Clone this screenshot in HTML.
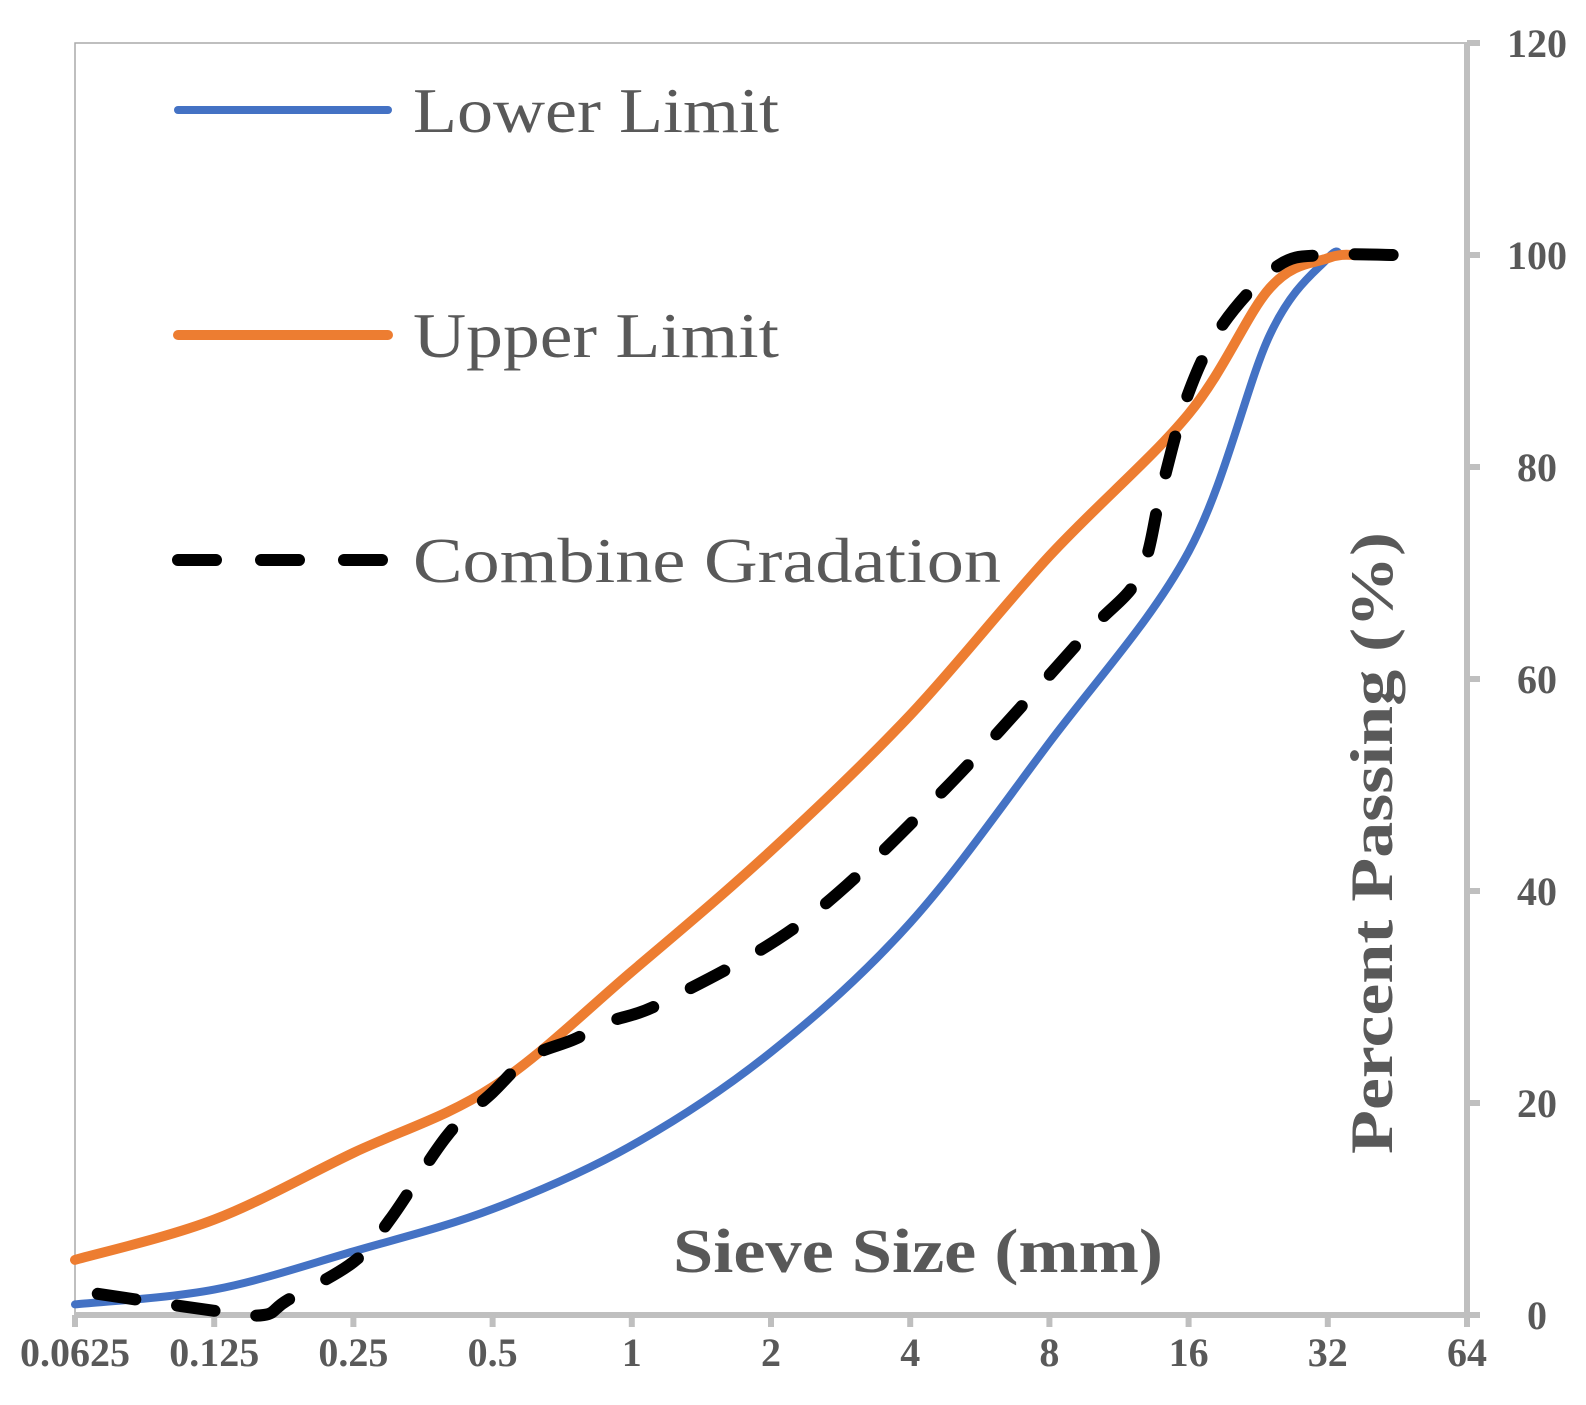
<!DOCTYPE html>
<html><head><meta charset="utf-8"><style>
html,body{margin:0;padding:0;background:#fff;}
svg text{font-family:"Liberation Serif",serif;fill:#595959;}
</style></head><body>
<svg id="chart" width="1586" height="1400" viewBox="0 0 1586 1400" xmlns="http://www.w3.org/2000/svg">
<g id="frame"></g><g id="series"></g><g id="labels"></g>
</svg>
<script>
const xTicks = [0.0625,0.125,0.25,0.5,1,2,4,8,16,32,64];
const xTickLabels = ["0.0625","0.125","0.25","0.5","1","2","4","8","16","32","64"];
const yTicks = [0,20,40,60,80,100,120];
const lowerSizes = [0.0625,0.125,0.25,0.5,1,2,4,8,16,24,32,34];
const lowerValues = [1,2.4,6,10,16,24.8,37,54,72,92.5,99.7,100];
const upperSizes = [0.0625,0.125,0.25,0.5,1,2,4,8,16,24,32,37];
const upperValues = [5.2,9,15.3,21.5,32.4,43.8,56.6,71.6,85,96.9,99.7,100];
const combSizes = [0.07,0.125,0.16,0.18,0.25,0.3,0.4,0.5,0.6,0.75,0.9,1.18,2.36,4.75,9.5,12.5,14,16,19,25,31.5,45];
const combValues = [2,0.4,0,1.4,5,9,17,21,24.3,26,27.7,29.6,37.2,49.6,64,69.7,78,87,93.5,99,100,100];

const L=75,R=1467,T=43,B=1315;
const xs = v => L + (R-L)*Math.log2(v/0.0625)/10;
const ys = v => B - (B-T)*v/120;
const NS="http://www.w3.org/2000/svg";
function mk(tag,parent,attrs){const e=document.createElementNS(NS,tag);for(const k in attrs)e.setAttribute(k,attrs[k]);parent.appendChild(e);return e;}
const frame=document.getElementById('frame'), series=document.getElementById('series'), labels=document.getElementById('labels');

let border=mk('path',frame,{d:`M${L},${B} L${L},${T} L${R},${T}`,fill:'none',stroke:'#aaaaaa','stroke-width':1.5});


let xa=mk('line',frame,{x1:L,y1:B,x2:R+10,y2:B,stroke:'#bfbfbf','stroke-width':6});


let ya=mk('line',frame,{x1:R,y1:T,x2:R,y2:B+12,stroke:'#bfbfbf','stroke-width':6});



xTicks.forEach((t,i)=>{
  const x=xs(t);
  let tk=mk('line',frame,{x1:x,y1:B,x2:x,y2:B+12,stroke:'#bfbfbf','stroke-width':6});
  
  
  let tx=mk('text',labels,{x:x,y:1366,'text-anchor':'middle','font-size':40,'font-weight':'bold'});
  tx.textContent=xTickLabels[i];
  
  
});
yTicks.forEach(t=>{
  const y=ys(t);
  let tk=mk('line',frame,{x1:R,y1:y,x2:R+13,y2:y,stroke:'#bfbfbf','stroke-width':6});
  
  
  let tx=mk('text',labels,{x:1537,y:y+14,'text-anchor':'middle','font-size':40,'font-weight':'bold'});
  tx.textContent=String(t);
  
  
});

function smooth(sz,vals){
  const p=sz.map((s,i)=>[xs(s),ys(vals[i])]);
  let d=`M${p[0][0]},${p[0][1]}`;
  for(let i=0;i<p.length-1;i++){
    const p0=p[i-1]||p[i],p1=p[i],p2=p[i+1],p3=p[i+2]||p2;
    const c1=[p1[0]+(p2[0]-p0[0])/6,p1[1]+(p2[1]-p0[1])/6];
    const c2=[p2[0]-(p3[0]-p1[0])/6,p2[1]-(p3[1]-p1[1])/6];
    d+=` C${c1[0]},${c1[1]} ${c2[0]},${c2[1]} ${p2[0]},${p2[1]}`;
  }
  return d;
}
let lo=mk('path',series,{d:smooth(lowerSizes,lowerValues),fill:'none',stroke:'#4472c4','stroke-width':8,'stroke-linecap':'round'});


let up=mk('path',series,{d:smooth(upperSizes,upperValues),fill:'none',stroke:'#ed7d31','stroke-width':10,'stroke-linecap':'round'});


let cb=mk('path',series,{d:smooth(combSizes,combValues),fill:'none',stroke:'#000','stroke-width':12,'stroke-linecap':'round','stroke-dasharray':'38 42'});



const legNames=["Lower Limit","Upper Limit","Combine Gradation"];
const legWidths=[366,366,588];
const legStyles=[{stroke:'#4472c4',w:8,dash:''},{stroke:'#ed7d31',w:10,dash:''},{stroke:'#000',w:12,dash:'38 45'}];
legNames.forEach((n,i)=>{
  const y=110+i*225;
  const g=mk('g',labels,{});
  
  
  const st=legStyles[i];
  mk('line',g,{x1:178,y1:y,x2:388,y2:y,stroke:st.stroke,'stroke-width':st.w,'stroke-linecap':'round','stroke-dasharray':st.dash});
  const t=mk('text',g,{x:413,y:y+22,'font-size':64,textLength:legWidths[i],lengthAdjust:'spacingAndGlyphs'});
  t.textContent=n;
});

let xt=mk('text',labels,{x:918,y:1272,'text-anchor':'middle','font-size':62,'font-weight':'bold',textLength:490,lengthAdjust:'spacingAndGlyphs'});
xt.textContent='Sieve Size (mm)';


let yt=mk('text',labels,{x:0,y:0,'text-anchor':'middle','font-size':60,'font-weight':'bold',textLength:622,lengthAdjust:'spacingAndGlyphs',transform:'translate(1392,843) rotate(-90)'});
yt.textContent='Percent Passing (%)';


</script>
</body></html>
